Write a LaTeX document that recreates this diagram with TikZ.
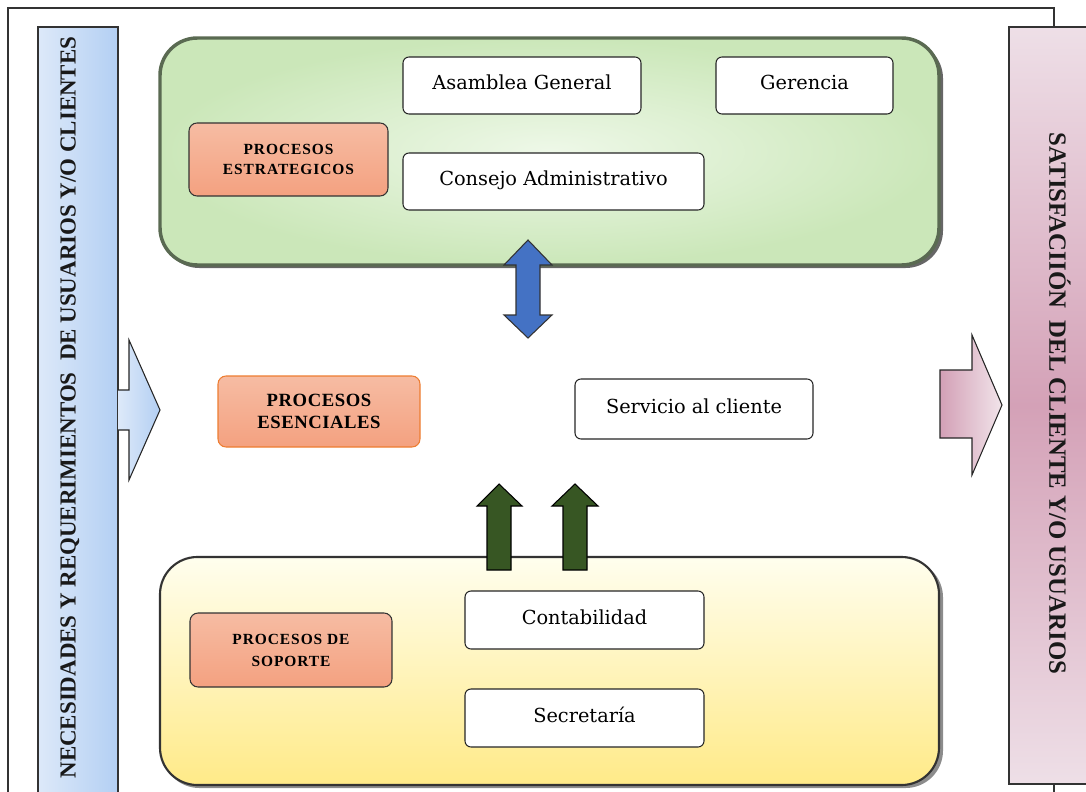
\documentclass[tikz,border=0pt]{standalone}
\usepackage{fontspec}
\setmainfont{DejaVu Serif}
\newfontfamily\capsfont{Liberation Serif}
\definecolor{bl1}{HTML}{DDE9F9}
\definecolor{bl2}{HTML}{B3CFF3}
\definecolor{pk1}{HTML}{EEDFE7}
\definecolor{pk2}{HTML}{D4A1B7}
\definecolor{pkA}{HTML}{D3A0B6}
\definecolor{pkB}{HTML}{F1E4EA}
\definecolor{gr1}{HTML}{EEF8E8}
\definecolor{gr2}{HTML}{CBE7B9}
\definecolor{grb}{HTML}{5A6A52}
\definecolor{ye1}{HTML}{FFFEEE}
\definecolor{ye2}{HTML}{FFEA88}
\definecolor{or1}{HTML}{F6BCA3}
\definecolor{or2}{HTML}{F4A180}
\definecolor{orb}{HTML}{ED7D31}
\definecolor{blA}{HTML}{4472C4}
\definecolor{dg}{HTML}{375623}
\begin{document}
\begin{tikzpicture}[x=0.75pt,y=-0.75pt,
  wbox/.style={draw=black!85, fill=white, rounded corners=4.5pt, line width=0.8pt,
    font=\fontsize{14.5}{17}\selectfont, inner sep=0pt, text height=11pt, text depth=5pt},
  obox/.style={draw=black!80, top color=or1, bottom color=or2, rounded corners=6pt,
    line width=0.8pt, align=center, inner sep=0pt},
  ocap/.style={font=\capsfont\bfseries\fontsize{11.6}{15}\selectfont\addfontfeature{LetterSpace=6}},
  blockarrow/.style={line width=0.8pt, draw=black!85, line join=miter},
  sidetext/.style={font=\capsfont\bfseries\selectfont, text=black!90},
]
\useasboundingbox (0,0) rectangle (1086,792);
% outer frame
\draw[black!80, line width=0.8pt] (8,800) -- (8,8) -- (1054,8) -- (1054,800);

% left bar
\draw[black!80, line width=0.8pt, left color=bl1, right color=bl2] (38,800) rectangle (118,27);
\node[sidetext, rotate=90, font=\capsfont\bfseries\fontsize{17.2}{20}\selectfont] (ltext) at (70,407.5)
  {NECESIDADES Y REQUERIMIENTOS\ \ DE USUARIOS Y/O CLIENTES};
% left arrow
\draw[blockarrow, left color=bl1, right color=bl2]
  (118,390) -- (129,390) -- (129,340) -- (160,410) -- (129,480) -- (129,430) -- (118,430);

% right bar
\draw[black!80, line width=0.8pt, top color=pk1, bottom color=pk1, middle color=pk2] (1009,27) rectangle (1092,784);
\node[sidetext, rotate=-90, font=\capsfont\bfseries\fontsize{18.6}{20}\selectfont] (rtext) at (1060,403.5)
  {SATISFACIIÓN\ \ DEL CLIENTE Y/O USUARIOS};
% right arrow
\draw[blockarrow, left color=pkA, right color=pkB]
  (940,370) -- (972,370) -- (972,335) -- (1002,405) -- (972,475) -- (972,438) -- (940,438) -- cycle;

% green (strategic) panel
\fill[black!60, rounded corners=28pt] (162,41) rectangle (943,268);
\draw[grb, line width=2.6pt, rounded corners=28pt, inner color=gr1, outer color=gr2] (160,38) rectangle (939,265);

% yellow (support) panel
\fill[black!45, rounded corners=28pt] (162,560) rectangle (943,788);
\draw[black!80, line width=1.6pt, rounded corners=28pt, top color=ye1, bottom color=ye2] (160,557) rectangle (939,785);

% strategic nodes
\node[obox, ocap, minimum width=199*0.75pt, minimum height=73*0.75pt] (estr) at (288.5,159.5) {PROCESOS\\ESTRATEGICOS};
\node[wbox, minimum width=238*0.75pt, minimum height=57*0.75pt] (asam) at (522,85.5) {Asamblea General};
\node[wbox, minimum width=177*0.75pt, minimum height=57*0.75pt] (ger) at (804.5,85.5) {Gerencia};
\node[wbox, minimum width=301*0.75pt, minimum height=57*0.75pt] (cons) at (553.5,181.5) {Consejo Administrativo};

% essential
\node[obox, draw=orb, minimum width=202*0.75pt, minimum height=71*0.75pt,
  font=\capsfont\bfseries\fontsize{14}{16}\selectfont\addfontfeature{LetterSpace=3}] (esen) at (319,411.5) {PROCESOS\\ESENCIALES};
\node[wbox, minimum width=238*0.75pt, minimum height=60*0.75pt] (serv) at (694,409) {Servicio al cliente};

% support nodes
\node[obox, minimum width=202*0.75pt, minimum height=74*0.75pt,
  font=\capsfont\bfseries\fontsize{11.6}{16.5}\selectfont\addfontfeature{LetterSpace=6}] (sop) at (291,650) {PROCESOS DE\\SOPORTE};
\node[wbox, minimum width=239*0.75pt, minimum height=58*0.75pt] (cont) at (584.5,620) {Contabilidad};
\node[wbox, minimum width=239*0.75pt, minimum height=58*0.75pt] (secr) at (584.5,718) {Secretaría};

% blue double arrow
\draw[blockarrow, fill=blA, draw=black!80]
  (528,240) -- (552,265) -- (540,265) -- (540,315) -- (552,315) -- (528,338)
  -- (504,315) -- (516,315) -- (516,265) -- (504,265) -- cycle;

% green up arrows
\draw[blockarrow, fill=dg, draw=black]
  (499,484) -- (522,506) -- (511,506) -- (511,570) -- (487,570) -- (487,506) -- (477,506) -- cycle;
\draw[blockarrow, fill=dg, draw=black]
  (575,484) -- (598,506) -- (587,506) -- (587,570) -- (563,570) -- (563,506) -- (552,506) -- cycle;
\end{tikzpicture}
\end{document}
